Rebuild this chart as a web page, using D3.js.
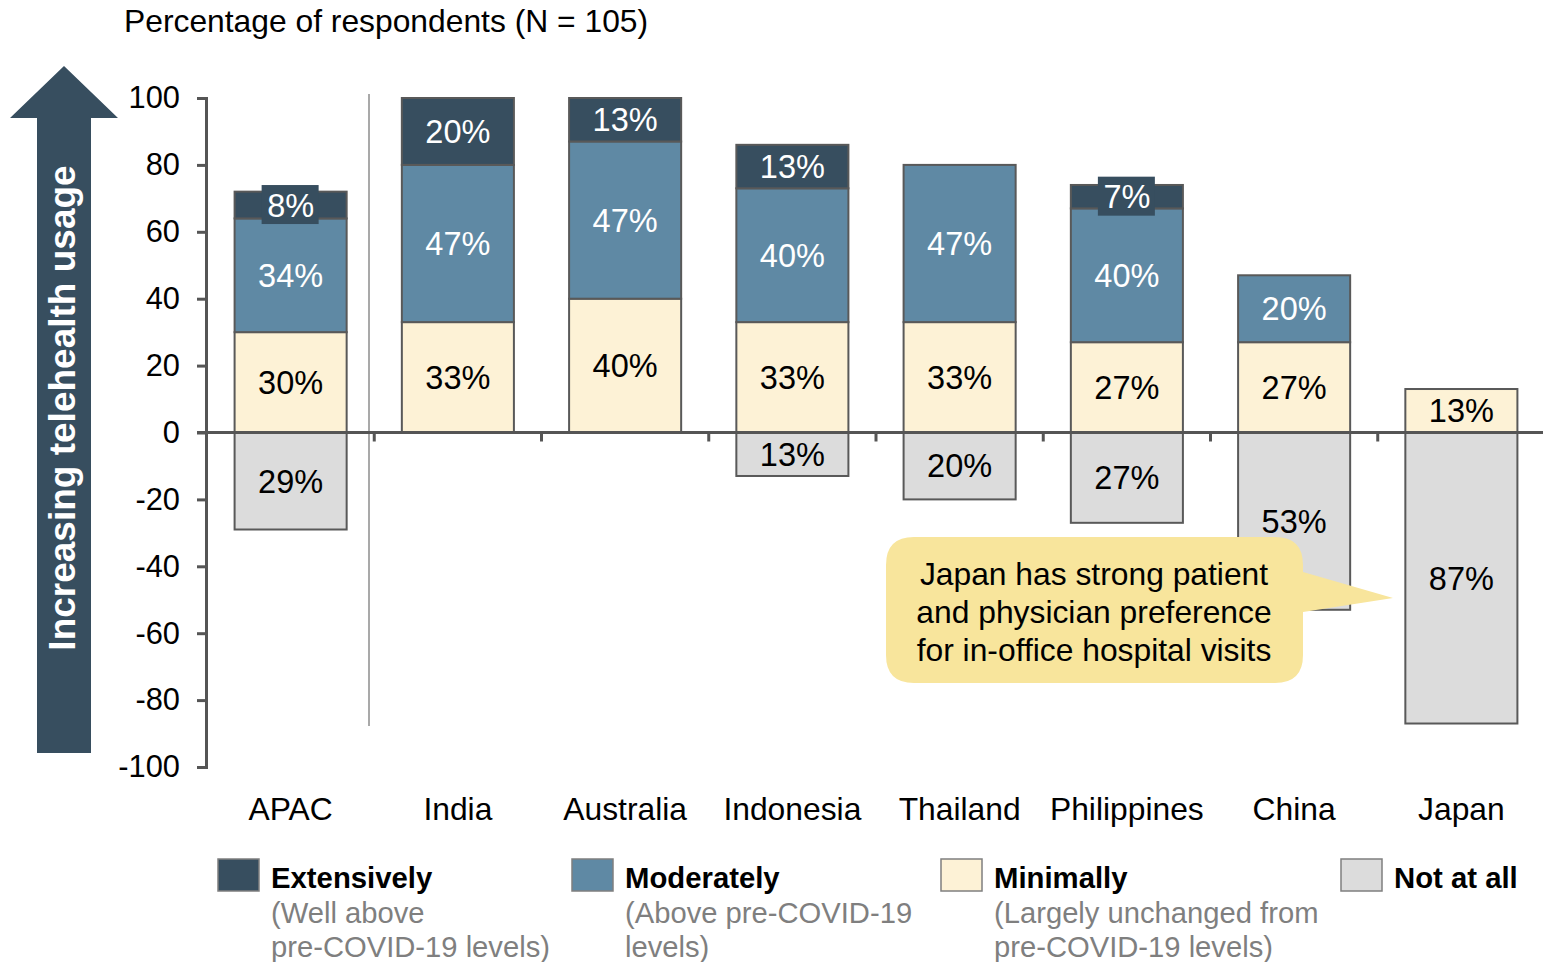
<!DOCTYPE html>
<html>
<head>
<meta charset="utf-8">
<script src="https://cdn.jsdelivr.net/npm/d3@7"></script>
<style>
  body { margin: 0; background: #fff; }
  svg { font-family: "Liberation Sans", Arial, sans-serif; }
</style>
</head>
<body>
<script>
// values (percent of respondents)
var categories = ["APAC", "India", "Australia", "Indonesia", "Thailand", "Philippines", "China", "Japan"];
var extensively = [8, 20, 13, 13, 0, 7, 0, 0];
var moderately = [34, 47, 47, 40, 47, 40, 20, 0];
var minimally = [30, 33, 40, 33, 33, 27, 27, 13];
var notAtAll = [29, 0, 0, 13, 20, 27, 53, 87];
var yTicks = [100, 80, 60, 40, 20, 0, -20, -40, -60, -80, -100];

var seriesNames = ["Minimally", "Moderately", "Extensively"];
var colors = {Extensively: "#374e5f", Moderately: "#5f89a4", Minimally: "#fdf2d6", "Not at all": "#dcdcdc"};
var textColors = {Extensively: "#fff", Moderately: "#fff", Minimally: "#000", "Not at all": "#000"};

var width = 1543, height = 962;
var svg = d3.select("body").append("svg")
    .attr("width", width)
    .attr("height", height);

var x = d3.scaleBand()
    .domain(categories)
    .range([207, 1545])
    .paddingInner(0.33)
    .paddingOuter(0.165);
var y = d3.scaleLinear()
    .domain([-100, 100])
    .range([767, 98]);

// table for stacking
var rows = categories.map(function(c, i) {
    return {cat: c, Minimally: minimally[i], Moderately: moderately[i], Extensively: extensively[i], notAtAll: notAtAll[i]};
});
var stacked = d3.stack().keys(seriesNames)(rows);

// title
svg.append("text")
    .attr("x", 124).attr("y", 32)
    .attr("font-size", 31.8)
    .text("Percentage of respondents (N = 105)");

// big arrow on the left
svg.append("path")
    .attr("d", "M37,753 L37,118 L10,118 L64,66 L118,118 L91,118 L91,753 Z")
    .attr("fill", "#374e5f");
svg.append("text")
    .attr("transform", "translate(75,408) rotate(-90)")
    .attr("text-anchor", "middle")
    .attr("fill", "#fff")
    .attr("font-weight", "bold")
    .attr("font-size", 37)
    .text("Increasing telehealth usage");

// separator between APAC and countries
svg.append("line")
    .attr("x1", 369).attr("x2", 369)
    .attr("y1", 94).attr("y2", 726)
    .attr("stroke", "#8c8c8c").attr("stroke-width", 1.5);

// y axis
var yAxis = svg.append("g")
    .attr("transform", "translate(206,0)")
    .call(d3.axisLeft(y).tickValues(yTicks).tickSize(9).tickPadding(17)
        .tickFormat(function(d) { return String(d); }));
yAxis.select(".domain").attr("stroke", "#555").attr("stroke-width", 3);
yAxis.selectAll(".tick line").attr("stroke", "#555").attr("stroke-width", 3);
yAxis.selectAll(".tick text")
    .attr("font-size", 30.8)
    .attr("font-family", "Liberation Sans, Arial, sans-serif")
    .attr("fill", "#000");

// positive stacks
var layers = svg.append("g").selectAll("g")
    .data(stacked)
    .enter().append("g")
    .attr("fill", function(d) { return colors[d.key]; });

layers.selectAll("rect")
    .data(function(d) { return d.filter(function(p) { return p[1] - p[0] > 0; }); })
    .enter().append("rect")
    .attr("x", function(d) { return x(d.data.cat); })
    .attr("width", x.bandwidth())
    .attr("y", function(d) { return y(d[1]); })
    .attr("height", function(d) { return y(d[0]) - y(d[1]); })
    .attr("stroke", "#595959")
    .attr("stroke-width", 2);

// negative bars
svg.append("g").selectAll("rect")
    .data(rows.filter(function(d) { return d.notAtAll > 0; }))
    .enter().append("rect")
    .attr("x", function(d) { return x(d.cat); })
    .attr("width", x.bandwidth())
    .attr("y", y(0))
    .attr("height", function(d) { return y(-d.notAtAll) - y(0); })
    .attr("fill", colors["Not at all"])
    .attr("stroke", "#595959")
    .attr("stroke-width", 2);

// zero line with category ticks
svg.append("line")
    .attr("x1", 197).attr("x2", 1543)
    .attr("y1", y(0)).attr("y2", y(0))
    .attr("stroke", "#555").attr("stroke-width", 3);
svg.append("g").selectAll("line")
    .data(categories.slice(1))
    .enter().append("line")
    .attr("x1", function(d) { return x(d) - x.step() * x.paddingInner() / 2; })
    .attr("x2", function(d) { return x(d) - x.step() * x.paddingInner() / 2; })
    .attr("y1", y(0)).attr("y2", y(0) + 9)
    .attr("stroke", "#555").attr("stroke-width", 3);

// segment labels
var labelG = svg.append("g");
stacked.forEach(function(layer) {
    layer.forEach(function(p) {
        var v = p[1] - p[0];
        if (v <= 0) return;
        var cx = x(p.data.cat) + x.bandwidth() / 2;
        var cy = (y(p[0]) + y(p[1])) / 2;
        if (v < 10) {
            labelG.append("rect")
                .attr("x", cx - 29).attr("y", cy - 20)
                .attr("width", 57).attr("height", 39)
                .attr("fill", colors[layer.key]);
        }
        labelG.append("text")
            .attr("x", cx).attr("y", cy + 11.5)
            .attr("text-anchor", "middle")
            .attr("font-size", 32.5)
            .attr("fill", textColors[layer.key])
            .text(v + "%");
    });
});
rows.forEach(function(d) {
    if (d.notAtAll <= 0) return;
    labelG.append("text")
        .attr("x", x(d.cat) + x.bandwidth() / 2)
        .attr("y", (y(0) + y(-d.notAtAll)) / 2 + 11.5)
        .attr("text-anchor", "middle")
        .attr("font-size", 32.5)
        .attr("fill", "#000")
        .text(d.notAtAll + "%");
});

// category labels
svg.append("g").selectAll("text")
    .data(categories)
    .enter().append("text")
    .attr("x", function(d) { return x(d) + x.bandwidth() / 2; })
    .attr("y", 820)
    .attr("text-anchor", "middle")
    .attr("font-size", 31.8)
    .text(function(d) { return d; });

// callout
svg.append("path")
    .attr("d", "M914,537 L1275,537 Q1303,537 1303,565 L1303,572 L1393,598 L1303,612 L1303,655 Q1303,683 1275,683 L914,683 Q886,683 886,655 L886,565 Q886,537 914,537 Z")
    .attr("fill", "#f8e59c");
var callLines = ["Japan has strong patient", "and physician preference", "for in-office hospital visits"];
svg.append("g").selectAll("text")
    .data(callLines)
    .enter().append("text")
    .attr("x", 1094)
    .attr("y", function(d, i) { return 585 + i * 38; })
    .attr("text-anchor", "middle")
    .attr("font-size", 31.8)
    .text(function(d) { return d; });

// legend
var legend = [
    {key: "Extensively", x: 218, sub: ["(Well above", "pre-COVID-19 levels)"]},
    {key: "Moderately", x: 572, sub: ["(Above pre-COVID-19", "levels)"]},
    {key: "Minimally", x: 941, sub: ["(Largely unchanged from", "pre-COVID-19 levels)"]},
    {key: "Not at all", x: 1341, sub: []}
];
var lg = svg.append("g").selectAll("g")
    .data(legend)
    .enter().append("g")
    .attr("transform", function(d) { return "translate(" + d.x + ",0)"; });
lg.append("rect")
    .attr("x", 0).attr("y", 859)
    .attr("width", 41).attr("height", 32)
    .attr("fill", function(d) { return colors[d.key]; })
    .attr("stroke", "#7f7f7f").attr("stroke-width", 1.5);
lg.append("text")
    .attr("x", 53).attr("y", 888)
    .attr("font-size", 29.3)
    .attr("font-weight", "bold")
    .text(function(d) { return d.key; });
lg.selectAll(".sub")
    .data(function(d) { return d.sub; })
    .enter().append("text")
    .attr("class", "sub")
    .attr("x", 53)
    .attr("y", function(d, i) { return 923 + i * 34; })
    .attr("font-size", 29.2)
    .attr("fill", "#7f7f7f")
    .text(function(d) { return d; });
</script>
</body>
</html>
